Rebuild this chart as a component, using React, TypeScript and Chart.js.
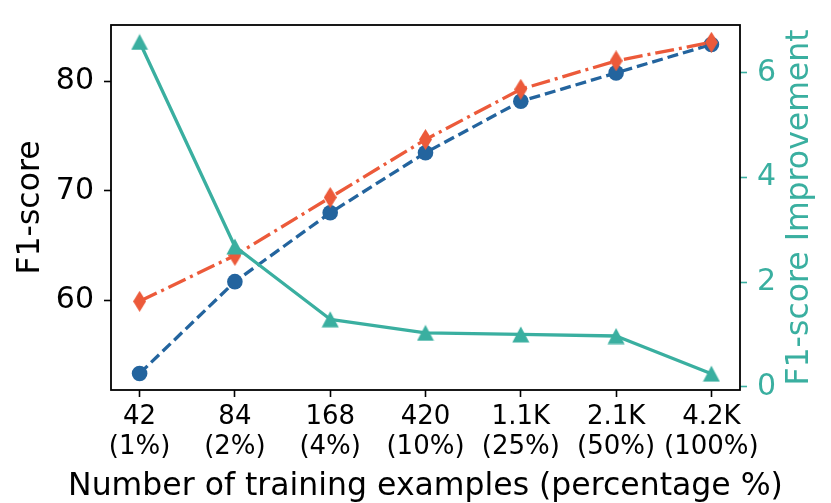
import React, { useEffect, useRef } from 'react';
import { Chart, registerables } from 'chart.js';

Chart.register(...registerables);
Chart.defaults.font.family = "'DejaVu Sans', sans-serif";

const sampleCounts = ['42', '84', '168', '420', '1.1K', '2.1K', '4.2K'];
const samplePercents = ['1%', '2%', '4%', '10%', '25%', '50%', '100%'];
const baselineF1 = [53.3, 61.7, 68.0, 73.5, 78.2, 80.8, 83.4];
const oursF1 = [59.9, 64.1, 69.4, 74.7, 79.3, 81.9, 83.6];
const improvement = [6.59, 2.68, 1.29, 1.03, 1.0, 0.97, 0.25];
const leftTicks = [60, 70, 80];
const rightTicks = [0, 2, 4, 6];

const BLUE = '#23649e';
const RED = '#ec5a3a';
const TEAL = '#3aafa0';

// matplotlib-like markers
function makeTriangle(color: string) {
  const c = document.createElement('canvas');
  c.width = 18;
  c.height = 17;
  const g = c.getContext('2d')!;
  g.fillStyle = color;
  g.beginPath();
  g.moveTo(9, 0.5);
  g.lineTo(17.5, 16.5);
  g.lineTo(0.5, 16.5);
  g.closePath();
  g.fill();
  return c;
}

function makeThinDiamond(color: string) {
  const c = document.createElement('canvas');
  c.width = 13;
  c.height = 21;
  const g = c.getContext('2d')!;
  g.fillStyle = color;
  g.beginPath();
  g.moveTo(6.5, 0);
  g.lineTo(13, 10.5);
  g.lineTo(6.5, 21);
  g.lineTo(0, 10.5);
  g.closePath();
  g.fill();
  return c;
}

const framePlugin = {
  id: 'frame',
  afterDatasetsDraw(chart: any) {
    const { ctx, chartArea: a } = chart;
    ctx.save();
    ctx.strokeStyle = '#000';
    ctx.lineWidth = 1.8;
    ctx.strokeRect(a.left, a.top, a.right - a.left, a.bottom - a.top);
    ctx.restore();
  },
};

// axis titles drawn by hand: the right one reads bottom-to-top like matplotlib,
// the bottom one may run wider than the plot area without being squeezed
const titlesPlugin = {
  id: 'axisTitles',
  afterDraw(chart: any) {
    const { ctx, chartArea: a } = chart;
    const s = chart.scales.y1;
    ctx.save();
    ctx.font = "31.5px 'DejaVu Sans'";
    ctx.textAlign = 'center';
    ctx.textBaseline = 'alphabetic';

    ctx.fillStyle = '#000';
    ctx.fillText('Number of training examples (percentage %)', (a.left + a.right) / 2, chart.height - 8);

    ctx.translate(s.right - 23, (a.top + a.bottom) / 2);
    ctx.rotate(-Math.PI / 2);
    ctx.fillStyle = TEAL;
    ctx.fillText('F1-score Improvement', 0, 0);
    ctx.restore();
  },
};

const App = () => {
  const canvasRef = useRef<HTMLCanvasElement>(null);

  useEffect(() => {
    const ctx = canvasRef.current?.getContext('2d');
    if (!ctx) return;

    const chart = new Chart(ctx, {
      type: 'line',
      data: {
        datasets: [
          {
            label: 'Improvement',
            data: improvement.map((y, i) => ({ x: i, y })),
            yAxisID: 'y1',
            borderColor: TEAL,
            backgroundColor: TEAL,
            borderWidth: 3.3,
            borderJoinStyle: 'round',
            pointStyle: makeTriangle(TEAL),
            pointRadius: 9,
            tension: 0,
          },
          {
            label: 'Ours',
            data: oursF1.map((y, i) => ({ x: i, y })),
            yAxisID: 'y',
            borderColor: RED,
            backgroundColor: RED,
            borderWidth: 3.3,
            borderDash: [19, 5, 3, 5],
            pointStyle: makeThinDiamond(RED),
            pointRadius: 10,
            tension: 0,
          },
          {
            label: 'Baseline',
            data: baselineF1.map((y, i) => ({ x: i, y })),
            yAxisID: 'y',
            borderColor: BLUE,
            backgroundColor: BLUE,
            borderWidth: 3.3,
            borderDash: [11, 5],
            pointStyle: 'circle',
            pointRadius: 7.8,
            pointBorderWidth: 0,
            tension: 0,
          },
        ],
      },
      options: {
        animation: false,
        responsive: false,
        layout: { padding: { top: 16, left: 0, right: 0, bottom: 0 } },
        plugins: {
          legend: { display: false },
          tooltip: { enabled: false },
        },
        scales: {
          x: {
            type: 'linear',
            position: 'bottom',
            min: -0.3,
            max: 6.3,
            afterBuildTicks: (s: any) => {
              s.ticks = sampleCounts.map((_, i) => ({ value: i }));
            },
            afterFit: (s: any) => {
              s.height = 113;
            },
            grid: {
              drawOnChartArea: false,
              drawTicks: true,
              tickLength: 7,
              tickWidth: 1.6,
              tickColor: '#000',
            },
            border: { display: false },
            ticks: {
              autoSkip: false,
              maxRotation: 0,
              padding: 6,
              color: '#000',
              font: { size: 26, lineHeight: 1.13 },
              callback: (v: any) => [sampleCounts[v], '(' + samplePercents[v] + ')'],
            },
          },
          y: {
            position: 'left',
            min: 51.79,
            max: 85.18,
            afterBuildTicks: (s: any) => {
              s.ticks = leftTicks.map((v) => ({ value: v }));
            },
            afterFit: (s: any) => {
              s.width = 111;
            },
            grid: {
              drawOnChartArea: false,
              drawTicks: true,
              tickLength: 7,
              tickWidth: 1.6,
              tickColor: '#000',
            },
            border: { display: false },
            ticks: {
              padding: 10,
              color: '#000',
              font: { size: 30, lineHeight: 1 },
            },
            title: {
              display: true,
              text: 'F1-score',
              color: '#000',
              font: { size: 31.5, lineHeight: 1.2 },
              padding: { top: 12, bottom: 0 },
            },
          },
          y1: {
            position: 'right',
            min: -0.062,
            max: 6.914,
            afterBuildTicks: (s: any) => {
              s.ticks = rightTicks.map((v) => ({ value: v }));
            },
            afterFit: (s: any) => {
              s.width = 91;
            },
            grid: {
              drawOnChartArea: false,
              drawTicks: true,
              tickLength: 7,
              tickWidth: 1.6,
              tickColor: TEAL,
            },
            border: { display: false },
            ticks: {
              padding: 10,
              color: TEAL,
              font: { size: 30, lineHeight: 1 },
            },
          },
        },
      },
      plugins: [framePlugin, titlesPlugin],
    });

    return () => {
      chart.destroy();
    };
  }, []);

  return (
    <div style={{ position: 'absolute', left: 0, top: 0, width: 831, height: 503 }}>
      <canvas ref={canvasRef} width="831" height="503"></canvas>
    </div>
  );
};

export default App;
